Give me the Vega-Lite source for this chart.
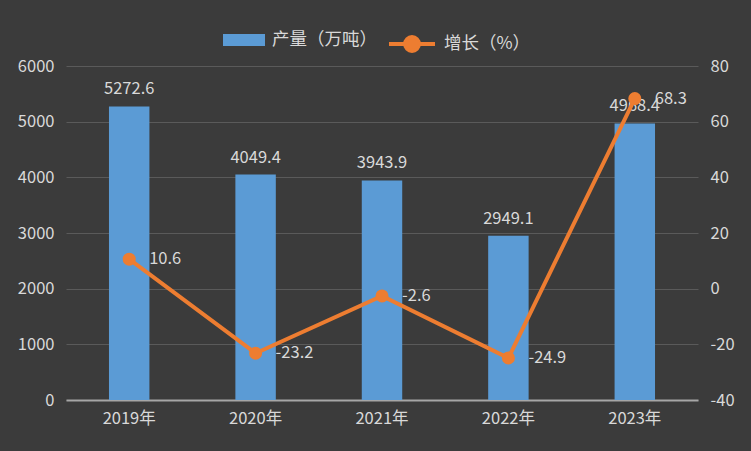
{
  "$schema": "https://vega.github.io/schema/vega-lite/v6.json",
  "width": 632,
  "height": 334,
  "autosize": {"type": "none"},
  "padding": {"left": 66, "top": 66, "right": 53, "bottom": 51},
  "background": "#3b3b3b",
  "config": {
    "view": {"stroke": null},
    "font": "Noto Sans CJK SC",
    "axis": {"labelFont": "Noto Sans CJK SC", "labelFontSize": 16.5, "labelColor": "#d9d9d9", "ticks": false, "domain": false, "gridColor": "#5a5a5a", "gridWidth": 1},
    "legend": {"labelFont": "Noto Sans CJK SC", "labelFontSize": 17.5, "labelColor": "#d9d9d9", "title": null}
  },
  "data": {
    "values": [
      {"year": "2019年", "output": 5272.6, "growth": 10.6},
      {"year": "2020年", "output": 4049.4, "growth": -23.2},
      {"year": "2021年", "output": 3943.9, "growth": -2.6},
      {"year": "2022年", "output": 2949.1, "growth": -24.9},
      {"year": "2023年", "output": 4968.4, "growth": 68.3}
    ]
  },
  "encoding": {
    "x": {"field": "year", "type": "nominal", "sort": null,
      "scale": {"paddingInner": 0.68, "paddingOuter": 0.34},
      "axis": {"title": null, "labelAngle": 0, "labelPadding": 10, "domain": true, "domainColor": "#a6a6a6", "domainWidth": 2}}
  },
  "layer": [
    {
      "layer": [
        {
          "mark": {"type": "bar"},
          "encoding": {
            "y": {"field": "output", "type": "quantitative",
              "scale": {"domain": [0, 6000], "nice": false},
              "axis": {"title": null, "values": [0, 1000, 2000, 3000, 4000, 5000, 6000], "grid": true, "labelPadding": 12, "labelExpr": "'' + datum.value"}},
            "color": {"datum": "产量（万吨）", "type": "nominal",
              "scale": {"domain": ["产量（万吨）"], "range": ["#5b9bd5"]},
              "legend": {"orient": "none", "legendX": 157, "legendY": -47, "symbolType": "M-1,-0.29H1V0.29H-1Z", "symbolSize": 1764, "symbolStrokeWidth": 0, "labelOffset": 7}}
          }
        },
        {
          "mark": {"type": "text", "baseline": "bottom", "dy": -9, "fontSize": 16.5, "color": "#d9d9d9"},
          "encoding": {
            "y": {"field": "output", "type": "quantitative"},
            "text": {"field": "output", "type": "nominal"}
          }
        }
      ]
    },
    {
      "layer": [
        {
          "mark": {"type": "line", "color": "#ed7d31", "strokeWidth": 4, "point": {"filled": true, "size": 170, "color": "#ed7d31"}},
          "encoding": {
            "y": {"field": "growth", "type": "quantitative",
              "scale": {"domain": [-40, 80], "nice": false},
              "axis": {"title": null, "orient": "right", "values": [-40, -20, 0, 20, 40, 60, 80], "grid": false, "labelPadding": 12, "labelExpr": "'' + datum.value"}},
            "color": {"datum": "增长（%）", "type": "nominal",
              "scale": {"domain": ["增长（%）"], "range": ["#ed7d31"]},
              "legend": {"orient": "none", "legendX": 321, "legendY": -47, "symbolType": "M-1,0H1M0.3,0A0.3,0.3 0 1,1 -0.3,0A0.3,0.3 0 1,1 0.3,0", "symbolSize": 2116, "symbolStrokeWidth": 4, "labelOffset": 7,
                "encode": {"symbols": {"update": {"fill": {"value": "#ed7d31"}, "stroke": {"value": "#ed7d31"}}}}}}
          }
        },
        {
          "mark": {"type": "text", "align": "left", "baseline": "middle", "dx": 20, "fontSize": 16.5, "color": "#d9d9d9"},
          "encoding": {
            "y": {"field": "growth", "type": "quantitative"},
            "text": {"field": "growth", "type": "nominal"}
          }
        }
      ]
    }
  ],
  "resolve": {"scale": {"y": "independent", "color": "independent"}, "legend": {"color": "independent"}}
}
